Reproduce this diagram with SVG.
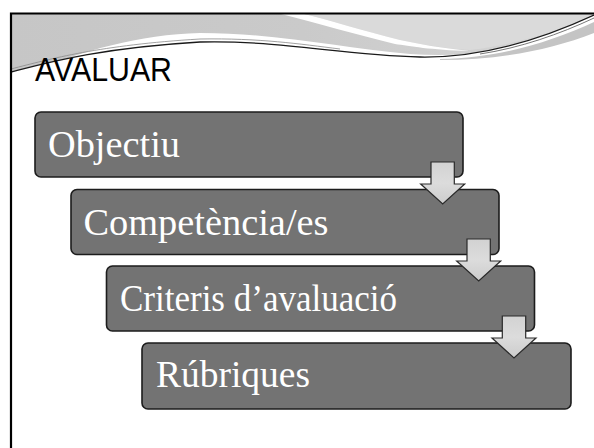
<svg xmlns="http://www.w3.org/2000/svg" width="594" height="448" viewBox="0 0 594 448">
<defs>
<style>
.box{fill:#737373;stroke:#1c1c1c;stroke-width:1.6}
.lbl{font-family:"Liberation Serif","Times New Roman",serif;font-size:37px;fill:#ffffff}
.arr{fill:url(#ag);stroke:#2a2a2a;stroke-width:1.2;stroke-linejoin:miter}
.title{font-family:"Liberation Sans",Arial,sans-serif;font-size:34px;fill:#000000}
</style>
<linearGradient id="ag" x1="0" y1="0" x2="0" y2="1">
<stop offset="0" stop-color="#d2d2d2"/>
<stop offset="0.5" stop-color="#dcdcdc"/>
<stop offset="1" stop-color="#cccccc"/>
</linearGradient>
<linearGradient id="hg" x1="0" y1="0" x2="1" y2="0">
<stop offset="0" stop-color="#c6c6c6"/>
<stop offset="0.5" stop-color="#cacaca"/>
<stop offset="1" stop-color="#d6d6d6"/>
</linearGradient>
</defs>
<rect width="594" height="448" fill="#ffffff"/>
<g id="header">
<path d="M11,13 H594 V15 C540,40 480,58 420,57 C340,55 280,40 200,42 C100,48 50,62 11,72 Z" fill="url(#hg)"/>
<path d="M300,13 H594 V15 C560,30 520,44 470,50 C440,48 420,44 400,40 C360,30 330,20 300,13 Z" fill="#dadada"/>
<path d="M277,13 L300,13 C330,20 360,30 400,40 C420,44 440,48 470,51 C430,50 410,46 395,44 C355,34 320,24 277,13 Z" fill="#ffffff"/>
<path d="M35,70 C80,52 140,34 200,33 C280,33 340,48 410,54 C440,56 470,55 500,50 L500,52 C470,58 440,58 420,57 C340,55 280,40 200,42 C120,46 70,58 35,70 Z" fill="#ffffff"/>
<path d="M440,59 C500,58 550,42 594,22 V33 C550,50 500,60 440,60 Z" fill="#c4c4c4"/>
<path d="M11,72 C50,62 100,48 200,42 C280,40 340,55 420,57 C480,58 540,40 594,15" fill="none" stroke="#1a1a1a" stroke-width="1.3"/>
<path d="M11,69 C50,59 100,45 200,39 C260,38 300,44 340,49" fill="none" stroke="#8a8a8a" stroke-width="0.8"/>
<path d="M480,54 C520,48 560,34 594,18" fill="none" stroke="#555555" stroke-width="0.8"/>
</g>
<g id="frame">
<path d="M11,448 V13.5 H594" fill="none" stroke="#000000" stroke-width="2.2"/>
</g>
<g id="title">
<text class="title" x="35" y="81" textLength="137" lengthAdjust="spacingAndGlyphs">AVALUAR</text>
</g>
<g id="node1">
<rect class="box" x="35" y="112" width="428" height="65" rx="6"/>
<text class="lbl" x="48" y="157" textLength="132" lengthAdjust="spacingAndGlyphs">Objectiu</text>
</g>
<g id="node2">
<rect class="box" x="71" y="189.5" width="428" height="65" rx="6"/>
<text class="lbl" x="83.5" y="235" textLength="245" lengthAdjust="spacingAndGlyphs">Competència/es</text>
</g>
<g id="node3">
<rect class="box" x="106.5" y="266" width="428" height="65" rx="6"/>
<text class="lbl" x="120" y="311" textLength="277" lengthAdjust="spacingAndGlyphs">Criteris d’avaluació</text>
</g>
<g id="node4">
<rect class="box" x="142" y="343" width="429" height="66" rx="6"/>
<text class="lbl" x="156" y="387" textLength="154" lengthAdjust="spacingAndGlyphs">Rúbriques</text>
</g>
<g id="connectors">
<path class="arr" d="M431,162 H454.3 V184 H464.7 L442.7,204 L420.7,184 H431 Z"/>
<path class="arr" d="M467,239 H490.3 V261 H500.7 L478.7,281 L456.7,261 H467 Z"/>
<path class="arr" d="M502.3,316 H525.7 V338 H536 L514,358 L492,338 H502.3 Z"/>
</g>
</svg>
